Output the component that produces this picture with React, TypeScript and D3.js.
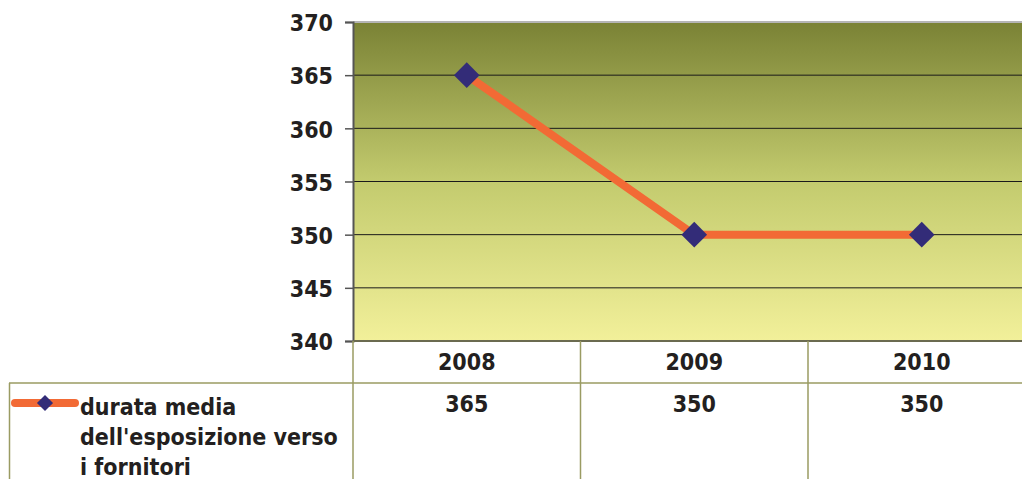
import { useEffect, useRef } from 'react'
import * as d3 from 'd3'

const years = ['2008', '2009', '2010']
const durata = [365, 350, 350]
const yTicks = [340, 345, 350, 355, 360, 365, 370]
const seriesName = ['durata media', "dell'esposizione verso", 'i fornitori']

export default function App() {
  const ref = useRef<SVGSVGElement>(null)

  useEffect(() => {
    const W = 1022
    const H = 479
    const left = 353
    const top = 22
    const bottom = 341
    const step = 227.5
    const font = '"DejaVu Sans Condensed", "DejaVu Sans", sans-serif'
    const fs = '23px'
    const gridColor = '#9a9b62'

    const svg = d3.select(ref.current)
    svg.selectAll('*').remove()

    const x = d3.scaleBand()
      .domain(years)
      .range([left, left + step * years.length])
    const y = d3.scaleLinear().domain([340, 370]).range([bottom, top])

    const defs = svg.append('defs')
    const grad = defs.append('linearGradient')
      .attr('id', 'bg').attr('x1', 0).attr('y1', 0).attr('x2', 0).attr('y2', 1)
    grad.append('stop').attr('offset', '0%').attr('stop-color', '#7a8235')
    grad.append('stop').attr('offset', '50%').attr('stop-color', '#c3cb6e')
    grad.append('stop').attr('offset', '100%').attr('stop-color', '#f2f09a')

    // plot background
    svg.append('rect')
      .attr('x', left).attr('y', top)
      .attr('width', W - left).attr('height', bottom - top)
      .attr('fill', 'url(#bg)')

    svg.append('line')
      .attr('x1', left).attr('x2', W).attr('y1', top).attr('y2', top)
      .attr('stroke', '#b5b5b5').attr('stroke-width', 2)

    // gridlines
    svg.selectAll('.grid')
      .data(yTicks.filter(t => t !== 340 && t !== 370))
      .join('line')
      .attr('x1', left).attr('x2', W)
      .attr('y1', d => y(d)).attr('y2', d => y(d))
      .attr('stroke', '#1a1a1a').attr('stroke-width', 1)

    // y axis
    const yAxis = svg.append('g')
      .attr('transform', `translate(${left},0)`)
      .call(d3.axisLeft(y).tickValues(yTicks).tickSize(8).tickPadding(12).tickFormat(d3.format('d')))
    yAxis.select('.domain').attr('stroke', '#555').attr('stroke-width', 2)
    yAxis.selectAll('.tick line').attr('stroke', '#555').attr('stroke-width', 1.5)
    yAxis.selectAll('text')
      .attr('dy', '0.38em')
      .style('font-family', font).style('font-size', fs)
      .style('font-weight', 'bold').style('fill', '#231f20')

    // bottom axis line
    svg.append('line')
      .attr('x1', left).attr('x2', W).attr('y1', bottom).attr('y2', bottom)
      .attr('stroke', '#6b6b50').attr('stroke-width', 2)

    // data table lines
    svg.append('line')
      .attr('x1', 9).attr('x2', W).attr('y1', 383).attr('y2', 383)
      .attr('stroke', gridColor).attr('stroke-width', 1.5)
    svg.append('line')
      .attr('x1', 9.5).attr('x2', 9.5).attr('y1', 383).attr('y2', H)
      .attr('stroke', gridColor).attr('stroke-width', 1.5)
    svg.selectAll('.sep')
      .data(years)
      .join('line')
      .attr('x1', d => x(d)!).attr('x2', d => x(d)!)
      .attr('y1', bottom).attr('y2', H)
      .attr('stroke', gridColor).attr('stroke-width', 1.5)

    const cx = (d: string) => x(d)! + x.bandwidth() / 2

    svg.selectAll('.yr')
      .data(years)
      .join('text')
      .attr('x', d => cx(d)).attr('y', 370)
      .attr('text-anchor', 'middle')
      .style('font-family', font).style('font-size', fs)
      .style('font-weight', 'bold').style('fill', '#231f20')
      .text(d => d)

    svg.selectAll('.val')
      .data(years)
      .join('text')
      .attr('x', d => cx(d)).attr('y', 412)
      .attr('text-anchor', 'middle')
      .style('font-family', font).style('font-size', fs)
      .style('font-weight', 'bold').style('fill', '#231f20')
      .text((d, i) => durata[i])

    // line series
    const line = d3.line<number>()
      .x((d, i) => cx(years[i]))
      .y(d => y(d))
    svg.append('path')
      .datum(durata)
      .attr('d', line)
      .attr('fill', 'none')
      .attr('stroke', '#f26a35')
      .attr('stroke-width', 8)

    const diamond = d3.symbol().type(d3.symbolDiamond2).size(420)
    svg.selectAll('.pt')
      .data(durata)
      .join('path')
      .attr('d', diamond)
      .attr('transform', (d, i) => `translate(${cx(years[i])},${y(d)})`)
      .attr('fill', '#332c78')

    // legend
    svg.append('line')
      .attr('x1', 15).attr('x2', 75).attr('y1', 403).attr('y2', 403)
      .attr('stroke', '#f26a35').attr('stroke-width', 8)
      .attr('stroke-linecap', 'round')
    svg.append('path')
      .attr('d', d3.symbol().type(d3.symbolDiamond2).size(165)())
      .attr('transform', 'translate(45,403)')
      .attr('fill', '#332c78')
    svg.selectAll('.leg')
      .data(seriesName)
      .join('text')
      .attr('x', 80).attr('y', (d, i) => 415 + i * 30)
      .style('font-family', font).style('font-size', fs)
      .style('font-weight', 'bold').style('fill', '#231f20')
      .text(d => d)
  }, [])

  return <svg ref={ref} width={1022} height={479} style={{ position: 'absolute', left: 0, top: 0, background: '#fff' }} />
}
